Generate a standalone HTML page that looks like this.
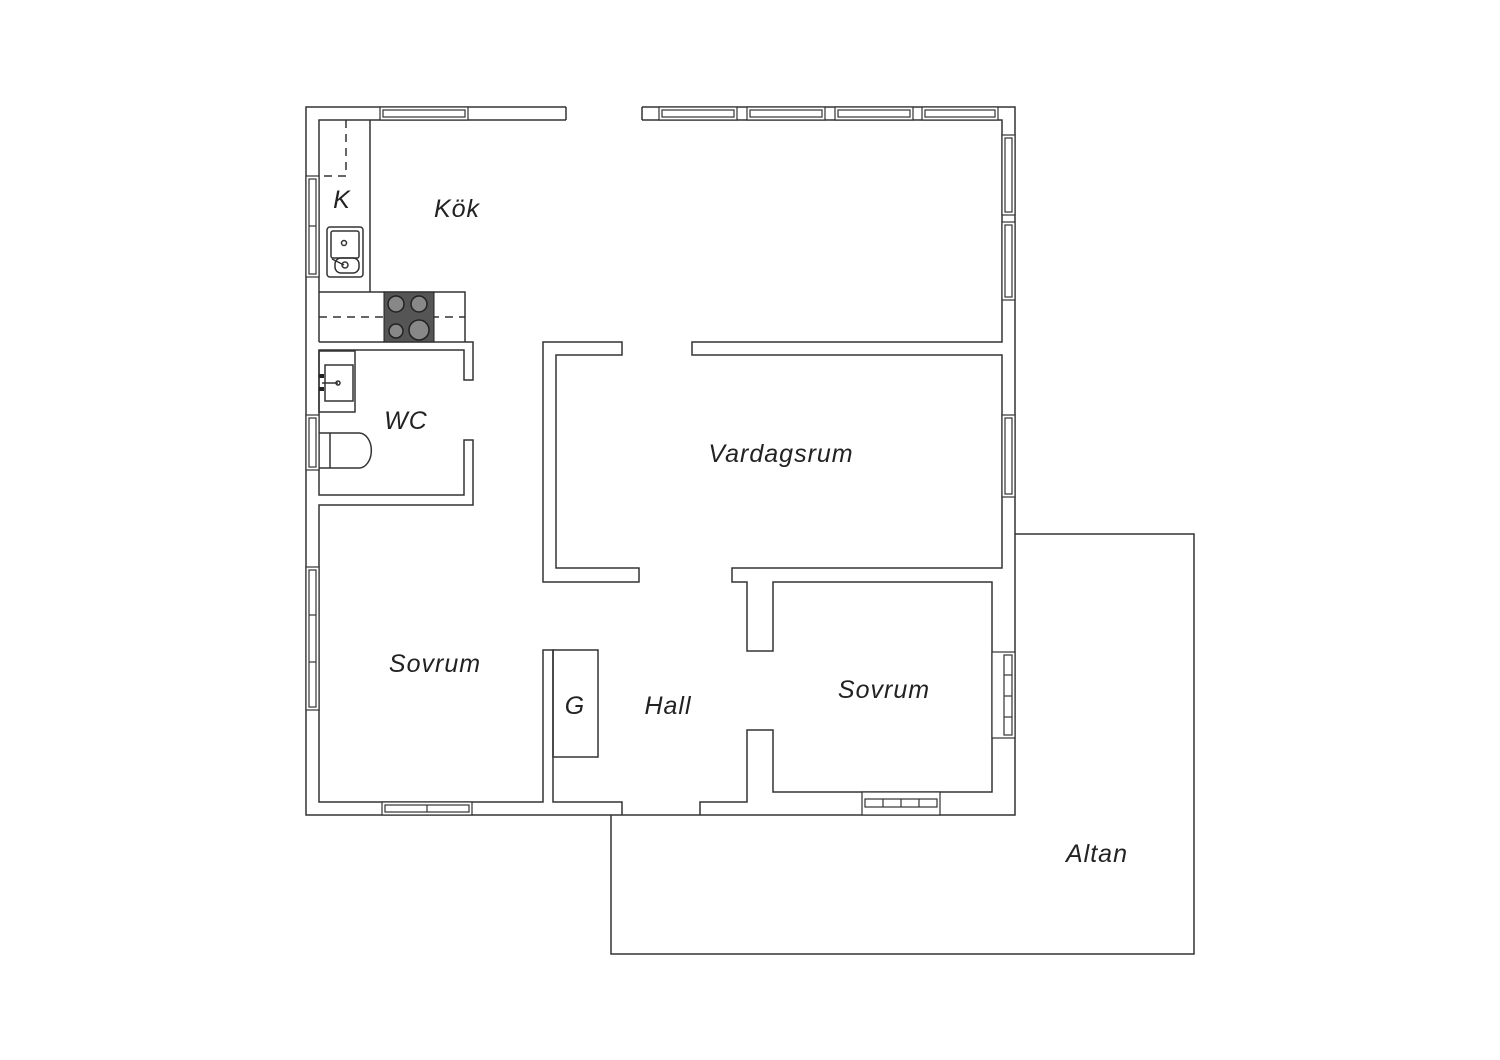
<!DOCTYPE html>
<html><head><meta charset="utf-8"><style>
html,body{margin:0;padding:0;background:#fff;}
svg{display:block;}
text{font-family:"Liberation Sans",sans-serif;font-style:italic;font-size:25px;fill:#222;text-anchor:middle;letter-spacing:1px;}
</style></head><body>
<svg width="1500" height="1060" viewBox="0 0 1500 1060" xmlns="http://www.w3.org/2000/svg">
<g fill="none" stroke="#333" stroke-width="1.5">
<polyline points="1015,534 1194,534 1194,954 611,954 611,815"/>
<polyline points="566,107 306,107 306,815 1015,815 1015,107 642,107"/>
<line x1="566" y1="107" x2="566" y2="120"/>
<line x1="642" y1="107" x2="642" y2="120"/>
<polyline points="566,120 319,120 319,342"/>
<polyline points="642,120 1002,120 1002,342 692,342 692,355 1002,355 1002,568 732,568 732,582 747,582 747,651 773,651 773,582 992,582 992,792 773,792 773,730 747,730 747,802 700,802 700,815"/>
<polygon points="622,342 543,342 543,582 639,582 639,568 556,568 556,355 622,355"/>
<polyline points="622,815 622,802 553,802 553,650 543,650 543,802 319,802 319,505 473,505 473,440 464,440 464,495 319,495 319,350 464,350 464,380 473,380 473,342 319,342"/>
<rect x="553" y="650" width="45" height="107"/>
<polyline points="319,292 465,292 465,342"/>
<line x1="370" y1="120" x2="370" y2="292"/>
<polyline points="346,120 346,176 319,176" stroke-dasharray="8,6"/>
<line x1="319" y1="317" x2="465" y2="317" stroke-dasharray="8,6"/>
<rect x="327" y="227" width="36" height="50" rx="3"/>
<rect x="331" y="231" width="28" height="27" rx="2"/>
<rect x="335" y="258" width="24" height="15" rx="6"/>
<circle cx="344" cy="243" r="2.5"/>
<circle cx="345" cy="265" r="3"/>
<line x1="332" y1="259" x2="344" y2="265"/>
<rect x="319" y="351" width="36" height="61"/>
<rect x="325" y="365" width="28" height="36"/>
<line x1="322" y1="383" x2="338" y2="383"/>
<circle cx="338" cy="383" r="2"/>
<path d="M319,433 H359 A12,17 0 0 1 359,468 H319"/>
<line x1="330" y1="433" x2="330" y2="468"/>
</g>
<rect x="384" y="292" width="50" height="50" fill="#555" stroke="#222"/>
<g fill="#888" stroke="#222" stroke-width="1.5">
<circle cx="396" cy="304" r="8"/><circle cx="419" cy="304" r="8"/>
<circle cx="396" cy="331" r="7"/><circle cx="419" cy="330" r="10"/>
</g>
<g fill="#222"><rect x="319" y="374" width="5" height="4"/><rect x="319" y="387" width="5" height="4"/></g>
<g fill="#fff" stroke="#333" stroke-width="1.2">
<rect x="380" y="107" width="88" height="13"/><rect x="383" y="110" width="82" height="7"/>
<rect x="659" y="107" width="78" height="13"/><rect x="662" y="110" width="72" height="7"/>
<rect x="747" y="107" width="78" height="13"/><rect x="750" y="110" width="72" height="7"/>
<rect x="835" y="107" width="78" height="13"/><rect x="838" y="110" width="72" height="7"/>
<rect x="922" y="107" width="76" height="13"/><rect x="925" y="110" width="70" height="7"/>
<rect x="1002" y="135" width="13" height="80"/><rect x="1005" y="138" width="7" height="74"/>
<rect x="1002" y="222" width="13" height="78"/><rect x="1005" y="225" width="7" height="72"/>
<rect x="1002" y="415" width="13" height="82"/><rect x="1005" y="418" width="7" height="76"/>
<rect x="992" y="652" width="23" height="86"/><rect x="1004" y="655" width="8" height="80"/>
<line x1="1004" y1="675" x2="1012" y2="675"/><line x1="1004" y1="696" x2="1012" y2="696"/><line x1="1004" y1="717" x2="1012" y2="717"/>
<rect x="862" y="792" width="78" height="23"/><rect x="865" y="799" width="72" height="8"/>
<line x1="883" y1="799" x2="883" y2="807"/><line x1="901" y1="799" x2="901" y2="807"/><line x1="919" y1="799" x2="919" y2="807"/>
<rect x="382" y="802" width="90" height="13"/><rect x="385" y="805" width="84" height="7"/><line x1="427" y1="805" x2="427" y2="812"/>
<rect x="306" y="176" width="13" height="101"/><rect x="309" y="179" width="7" height="95"/><line x1="309" y1="226" x2="316" y2="226"/>
<rect x="306" y="415" width="13" height="55"/><rect x="309" y="418" width="7" height="49"/>
<rect x="306" y="567" width="13" height="143"/><rect x="309" y="570" width="7" height="137"/><line x1="309" y1="615" x2="316" y2="615"/><line x1="309" y1="662" x2="316" y2="662"/>
</g>
<text x="342" y="208">K</text>
<text x="457" y="217">Kök</text>
<text x="406" y="429">WC</text>
<text x="781" y="462">Vardagsrum</text>
<text x="435" y="672">Sovrum</text>
<text x="575" y="714">G</text>
<text x="668" y="714">Hall</text>
<text x="884" y="698">Sovrum</text>
<text x="1097" y="862">Altan</text>
</svg>
</body></html>
